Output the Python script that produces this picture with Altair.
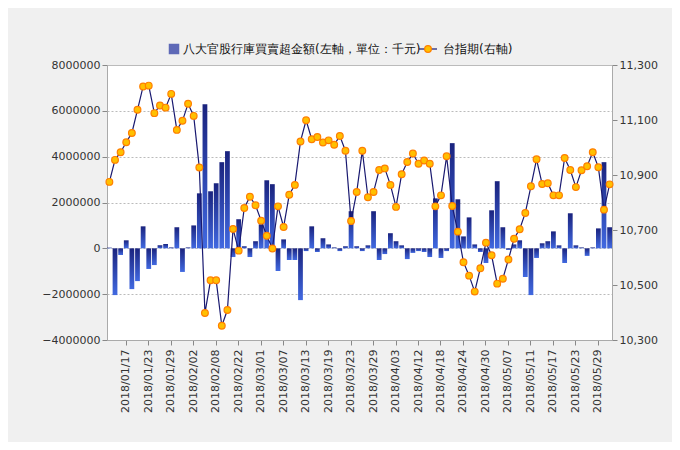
import altair as alt
import pandas as pd

dates = [
    "2018/01/12", "2018/01/15", "2018/01/16", "2018/01/17", "2018/01/18", "2018/01/19",
    "2018/01/22", "2018/01/23", "2018/01/24", "2018/01/25", "2018/01/26", "2018/01/29",
    "2018/01/30", "2018/01/31", "2018/02/01", "2018/02/02", "2018/02/05", "2018/02/06",
    "2018/02/07", "2018/02/08", "2018/02/09", "2018/02/12", "2018/02/21", "2018/02/22",
    "2018/02/23", "2018/02/26", "2018/02/27", "2018/03/01", "2018/03/02", "2018/03/05",
    "2018/03/06", "2018/03/07", "2018/03/08", "2018/03/09", "2018/03/12", "2018/03/13",
    "2018/03/14", "2018/03/15", "2018/03/16", "2018/03/19", "2018/03/20", "2018/03/21",
    "2018/03/22", "2018/03/23", "2018/03/26", "2018/03/27", "2018/03/28", "2018/03/29",
    "2018/03/30", "2018/03/31", "2018/04/02", "2018/04/03", "2018/04/09", "2018/04/10",
    "2018/04/11", "2018/04/12", "2018/04/13", "2018/04/16", "2018/04/17", "2018/04/18",
    "2018/04/19", "2018/04/20", "2018/04/23", "2018/04/24", "2018/04/25", "2018/04/26",
    "2018/04/27", "2018/04/30", "2018/05/02", "2018/05/03", "2018/05/04", "2018/05/07",
    "2018/05/08", "2018/05/09", "2018/05/10", "2018/05/11", "2018/05/14", "2018/05/15",
    "2018/05/16", "2018/05/17", "2018/05/18", "2018/05/21", "2018/05/22", "2018/05/23",
    "2018/05/24", "2018/05/25", "2018/05/28", "2018/05/29", "2018/05/30", "2018/05/31",
]

# 八大官股買賣超 (百萬元)
net_buy_m = [
    0.03, -2.04, -0.29, 0.35, -1.78, -1.43, 0.96, -0.90, -0.73, 0.13,
    0.19, 0.04, 0.92, -1.03, 0.04, 1.00, 2.40, 6.29, 2.49, 2.84,
    3.76, 4.24, -0.38, 1.27, 0.09, -0.38, 0.31, 1.05, 2.97, 2.80,
    -0.99, 0.39, -0.51, -0.51, -2.26, -0.12, 0.96, -0.16, 0.44, 0.17,
    0.04, -0.12, 0.09, 1.62, 0.09, -0.12, 0.13, 1.62, -0.51, -0.25,
    0.66, 0.31, 0.13, -0.47, -0.20, -0.12, -0.16, -0.38, 2.18, -0.42,
    -0.12, 4.59, 2.14, 0.52, 1.35, 0.17, -0.16, -0.64, 1.66, 2.93,
    0.92, -0.07, 0.17, 0.35, -1.25, -2.04, -0.42, 0.22, 0.31, 0.74,
    0.13, -0.64, 1.53, 0.13, 0.04, -0.33, 0.04, 0.87, 3.76, 0.92,
]

taiex_futures = [
    10875, 10955, 10983, 11019, 11053, 11137, 11222, 11225, 11125, 11153,
    11145, 11195, 11064, 11097, 11159, 11115, 10927, 10398, 10517, 10517,
    10352, 10409, 10704, 10625, 10780, 10821, 10790, 10734, 10679, 10633,
    10786, 10711, 10828, 10864, 11022, 11099, 11030, 11038, 11018, 11026,
    11010, 11042, 10988, 10733, 10838, 10988, 10819, 10838, 10918, 10924,
    10864, 10784, 10903, 10947, 10978, 10941, 10953, 10941, 10786, 10826,
    10968, 10787, 10694, 10583, 10534, 10476, 10561, 10654, 10608, 10505,
    10523, 10593, 10668, 10703, 10762, 10859, 10957, 10867, 10870, 10826,
    10826, 10962, 10918, 10856, 10917, 10932, 10983, 10928, 10774, 10866,
]

bar_label = "八大官股行庫買賣超金額(左軸，單位：千元)"
line_label = "台指期(右軸)"

df = pd.DataFrame({
    "date": dates,
    "net": [v * 1_000_000 for v in net_buy_m],
    "fut": taiex_futures,
})

tick_dates = dates[3::4]
font = "DejaVu Sans"

x = alt.X(
    "date:O",
    title=None,
    sort=None,
    scale=alt.Scale(paddingInner=0.15, paddingOuter=0.0),
    axis=alt.Axis(values=tick_dates, labelAngle=-90, labelFontSize=11,
                  labelColor="#333", tickColor="#888", domainColor="#aaa",
                  labelPadding=4),
)

gradient = alt.Gradient(
    gradient="linear",
    stops=[alt.GradientStop(color="#1a237e", offset=0),
           alt.GradientStop(color="#4169e1", offset=1)],
    x1=0, x2=0, y1=0, y2=1,
)

bars = alt.Chart(df).mark_bar(color=gradient).encode(
    x=x,
    y=alt.Y("net:Q", title=None,
            scale=alt.Scale(domain=[-4000000, 8000000], nice=False),
            axis=alt.Axis(values=list(range(-4000000, 8000001, 2000000)),
                          format="d", labelFontSize=11, labelColor="#333",
                          grid=True, gridDash=[2, 2], gridColor="#bbb",
                          domainColor="#aaa", tickColor="#888")),
)

y_right = alt.Y(
    "fut:Q", title=None,
    scale=alt.Scale(domain=[10300, 11300], nice=False, zero=False),
    axis=alt.Axis(orient="right", values=list(range(10300, 11301, 200)),
                  labelFontSize=11, labelColor="#333", grid=False,
                  domainColor="#aaa", tickColor="#888"),
)

right = alt.Chart(df).mark_line(
    color="#191970", strokeWidth=1.2,
    point=alt.OverlayMarkDef(filled=True, size=45, fill="#ffc000",
                             stroke="#ff7f00", strokeWidth=1.2, opacity=1),
).encode(x=x, y=y_right)

# legend
leg_sq = alt.Chart(pd.DataFrame({"k": [0]})).mark_square(
    color="#1f2f9e", size=110).encode(x=alt.value(67), y=alt.value(-16))
leg_t1 = alt.Chart(pd.DataFrame({"k": [bar_label]})).mark_text(
    align="left", fontSize=12, font=font, color="#111").encode(
    text="k:N", x=alt.value(76), y=alt.value(-16))
leg_ln = alt.Chart(pd.DataFrame({"k": [0]})).mark_rule(
    color="#191970", strokeWidth=1.2).encode(
    x=alt.value(312), x2=alt.value(330), y=alt.value(-16))
leg_pt = alt.Chart(pd.DataFrame({"k": [0]})).mark_point(
    filled=True, size=45, fill="#ffc000", stroke="#ff7f00", strokeWidth=1.2,
    opacity=1).encode(x=alt.value(321), y=alt.value(-16))
leg_t2 = alt.Chart(pd.DataFrame({"k": [line_label]})).mark_text(
    align="left", fontSize=12, font=font, color="#111").encode(
    text="k:N", x=alt.value(336), y=alt.value(-16))

chart = alt.layer(
    bars, right, leg_sq, leg_t1, leg_ln, leg_pt, leg_t2
).resolve_scale(y="independent").properties(
    width=505, height=275,
    autosize=alt.AutoSizeParams(type="none"),
    padding={"left": 99, "top": 57, "right": 60, "bottom": 102},
    background="#f0f0f0",
).configure_view(fill="white", stroke="#bbb").configure_axis(
    labelFont=font
)

chart.save("out.html", embed_options={"renderer": "svg", "actions": False})
